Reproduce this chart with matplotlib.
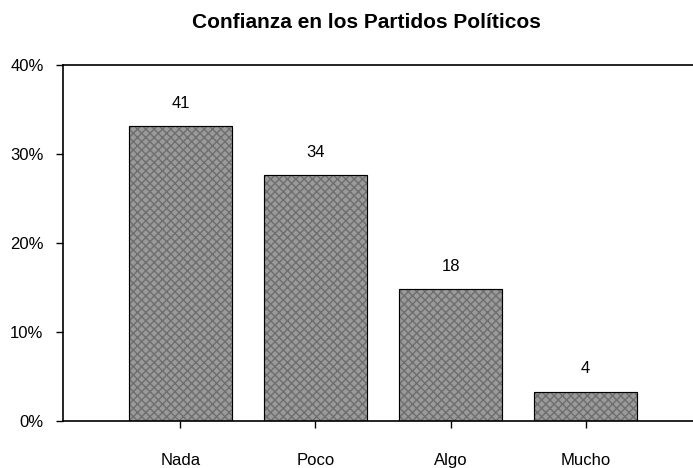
import matplotlib
matplotlib.use("Agg")
import matplotlib.pyplot as plt
from matplotlib import font_manager

categories = ["Nada", "Poco", "Algo", "Mucho"]
heights = [33.1, 27.6, 14.8, 3.3]        # bar heights (% scale)
labels = ["41", "34", "18", "4"]          # labels printed above bars
yticks = [0, 10, 20, 30, 40]
ytick_labels = ["0%", "10%", "20%", "30%", "40%"]

fams = [f.name for f in font_manager.fontManager.ttflist]
narrow = "Liberation Sans Narrow" if "Liberation Sans Narrow" in fams else "Liberation Sans"
plt.rcParams['font.family'] = [narrow, 'DejaVu Sans']

fig = plt.figure(figsize=(6.93, 4.68), dpi=100)
ax = fig.add_axes([63/693, 1-421/468, 640/693, 356/468])

x = list(range(len(categories)))
bars = ax.bar(x, heights, width=0.76, color="#9a9a9a", edgecolor="#6e6e6e",
              linewidth=0.8, hatch="xxxx")
ax.bar(x, heights, width=0.76, fill=False, edgecolor="black", linewidth=0.8)

for xi, h, lab in zip(x, heights, labels):
    ax.annotate(lab, (xi, h), xytext=(0, 11), textcoords="offset points",
                ha="center", va="bottom", fontsize=12)

ax.set_xlim(-0.87, 3.87)
ax.set_ylim(0, 40)
ax.set_yticks(yticks)
ax.set_yticklabels(ytick_labels, fontsize=12)
ax.set_xticks(x)
ax.set_xticklabels(categories, fontsize=12)
ax.tick_params(axis="x", direction="out", length=5, pad=18, width=1)
ax.tick_params(axis="y", direction="out", length=5, pad=9, width=1)
ax.spines["right"].set_visible(False)
for s in ["left", "bottom", "top"]:
    ax.spines[s].set_linewidth(1.2)

fig.text(366/693, 1-22/468, "Confianza en los Partidos Políticos",
         ha="center", va="center", fontsize=15, fontweight="bold")

fig.savefig("out.png", dpi=100)
